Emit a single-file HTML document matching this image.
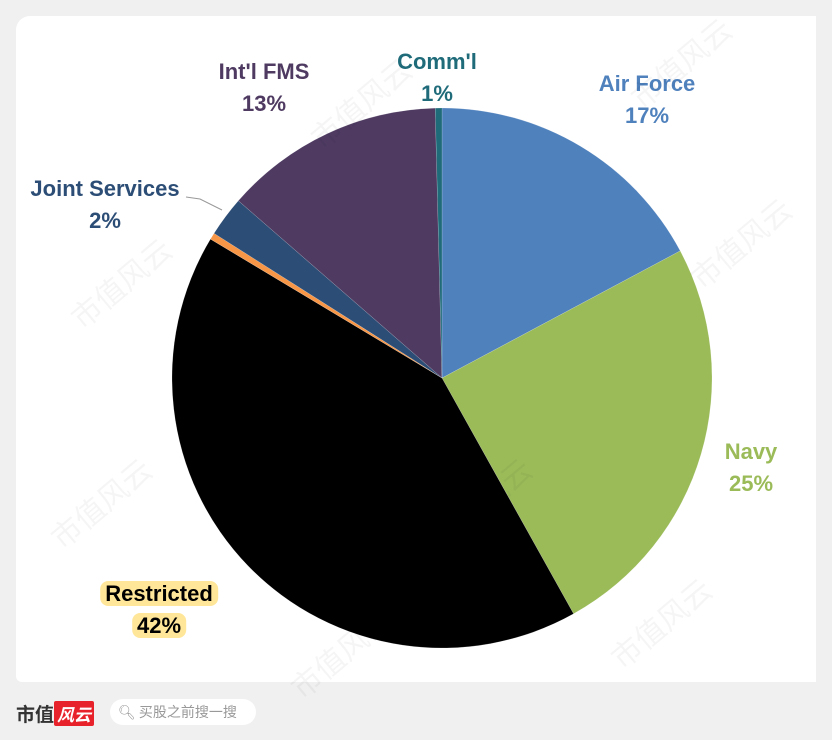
<!DOCTYPE html>
<html><head><meta charset="utf-8">
<style>
html,body{margin:0;padding:0;width:832px;height:740px;overflow:hidden;}
body{background:#f0f0f0;position:relative;font-family:"Liberation Sans","Noto Sans CJK SC",sans-serif;}
#card{position:absolute;left:16px;top:16px;width:800px;height:666px;background:#fff;border-radius:14px 0 0 6px;}
.lbl{position:absolute;font-weight:bold;font-size:22px;text-align:center;line-height:32px;transform:translateX(-50%);white-space:nowrap;font-family:"Liberation Sans",sans-serif;}
.wm{position:absolute;color:rgba(0,0,0,0.04);font-size:30px;transform:rotate(-40deg);font-family:"Noto Sans CJK SC",sans-serif;white-space:nowrap}
</style></head><body>
<div id="card"></div>
<svg id="pie" width="832" height="740" style="position:absolute;left:0;top:0"></svg>
<div class="lbl" style="left:647px;top:68px;color:#4f81bd">Air Force<br>17%</div>
<div class="lbl" style="left:751px;top:436px;color:#9bbb59">Navy<br>25%</div>
<div class="lbl" style="left:159px;top:578px;color:#000"><span style="background:#ffe699;border-radius:8px;padding:0 5px">Restricted</span><br><span style="background:#ffe699;border-radius:8px;padding:0 5px">42%</span></div>
<div class="lbl" style="left:105px;top:173px;color:#2c4d75">Joint Services<br>2%</div>
<div class="lbl" style="left:264px;top:56px;color:#4f3b62">Int'l FMS<br>13%</div>
<div class="lbl" style="left:437px;top:46px;color:#1f6b7a">Comm'l<br>1%</div>
<div style="position:absolute;left:16px;top:702px;font-weight:bold;font-size:19px;color:#333;font-family:'Noto Sans CJK SC',sans-serif;line-height:24px">市值<span style="background:#e8222a;color:#fff;font-style:italic;padding:0 3px;border-radius:2px;font-size:17px">风云</span></div>
<div style="position:absolute;left:110px;top:699px;width:146px;height:26px;border-radius:13px;background:#fff;color:#999;font-size:14px;line-height:26px;font-family:'Noto Sans CJK SC',sans-serif;box-sizing:border-box;padding-left:8px">🔍︎ 买股之前搜一搜</div>
<script>
const categories=["Air Force","Navy","Restricted","Other","Joint Services","Int'l FMS","Comm'l"];
const values=[17.2,24.7,41.7,0.4,2.4,13.2,0.4];
const colors=["#4f81bd","#9bbb59","#000000","#f79646","#2c4d75","#4f3b62","#1f6b7a"];
const svg=document.getElementById('pie');
const NS='http://www.w3.org/2000/svg';
const cx=442,cy=378,r=270;
const total=values.reduce((a,b)=>a+b,0);
function ang(v){return v/total*2*Math.PI;}
function pt(a){return [cx+r*Math.sin(a),cy-r*Math.cos(a)];}
let acc=0;
values.forEach((v,i)=>{
  const a0=ang(acc),a1=ang(acc+v);acc+=v;
  const p0=pt(a0),p1=pt(a1);
  const large=(a1-a0)>Math.PI?1:0;
  const p=document.createElementNS(NS,'path');
  p.setAttribute('d',`M${cx},${cy} L${p0[0]},${p0[1]} A${r},${r} 0 ${large} 1 ${p1[0]},${p1[1]} Z`);
  p.setAttribute('fill',colors[i]);
  p.setAttribute('stroke','rgba(255,255,255,0.3)');
  p.setAttribute('stroke-width','0.5');
  
  
  svg.appendChild(p);
});
const ln=document.createElementNS(NS,'polyline');
ln.setAttribute('points','186,197 200,199 222,210');
ln.setAttribute('fill','none');ln.setAttribute('stroke','#999');ln.setAttribute('stroke-width','1');


svg.appendChild(ln);
const wms=[[300,80],[620,40],[60,260],[680,220],[40,480],[420,480],[280,630],[600,600]];
wms.forEach(w=>{const d=document.createElement('div');d.className='wm';d.textContent='市值风云';d.style.left=w[0]+'px';d.style.top=w[1]+'px';


document.body.appendChild(d);});
</script>
</body></html>
